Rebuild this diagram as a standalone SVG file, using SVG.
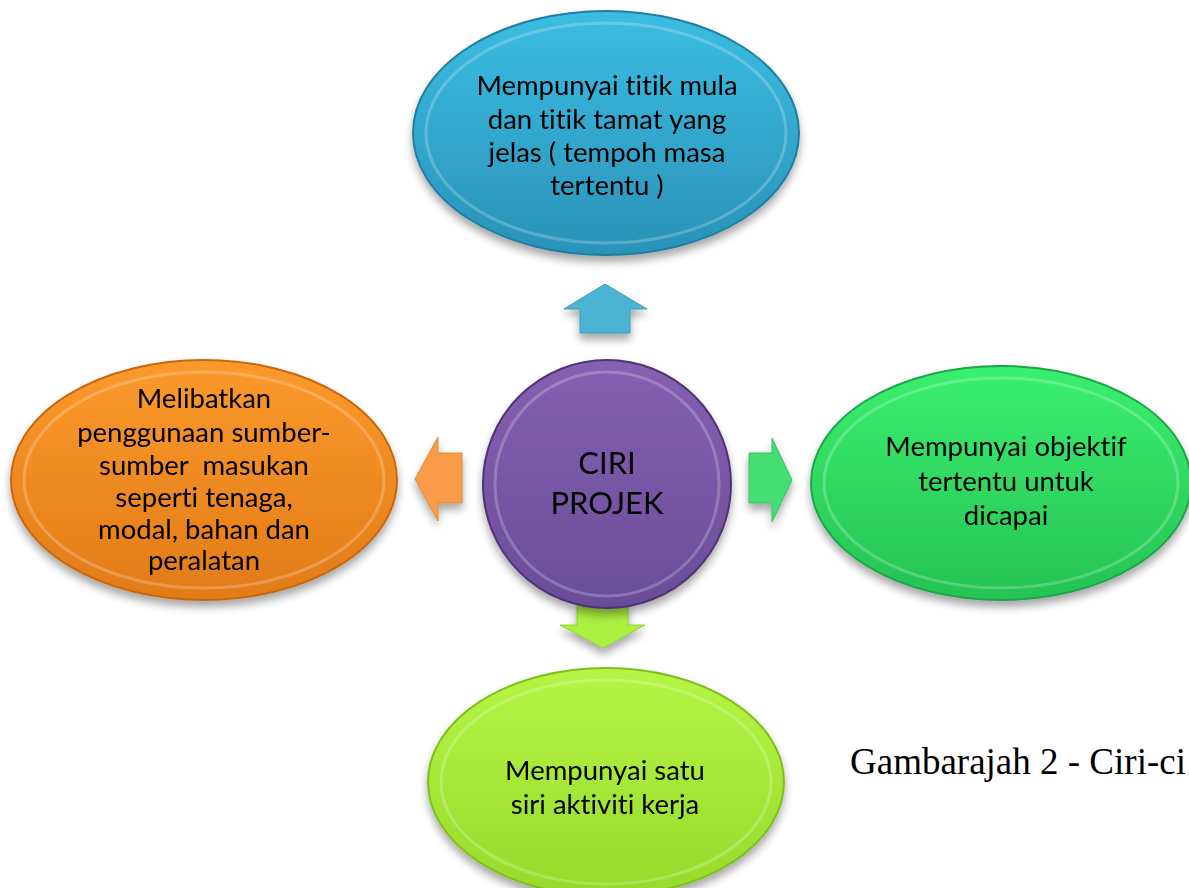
<svg xmlns="http://www.w3.org/2000/svg" width="1189" height="888" viewBox="0 0 1189 888">
<defs>
<style>
.t{font-family:Lato,"Liberation Sans",sans-serif;font-size:27.5px;fill:#000;text-anchor:middle;font-variant-ligatures:none}
.c{font-family:Lato,"Liberation Sans",sans-serif;font-size:31px;fill:#000;text-anchor:middle}
.cap{font-family:"Liberation Serif",serif;font-size:37px;fill:#000}
.rim{fill:none;stroke:#ffffff;stroke-opacity:0.22;stroke-width:3}
</style>
<filter id="sh" x="-20%" y="-20%" width="140%" height="150%">
<feGaussianBlur in="SourceAlpha" stdDeviation="4"/>
<feOffset dx="0" dy="6" result="b"/>
<feComponentTransfer><feFuncA type="linear" slope="0.35"/></feComponentTransfer>
<feMerge><feMergeNode/><feMergeNode in="SourceGraphic"/></feMerge>
</filter>
<linearGradient id="gb" x1="0" y1="0" x2="0" y2="1"><stop offset="0" stop-color="#3cbde3"/><stop offset="1" stop-color="#2a92b8"/></linearGradient>
<linearGradient id="gp" x1="0" y1="0" x2="0" y2="1"><stop offset="0" stop-color="#8660b3"/><stop offset="1" stop-color="#6a4d98"/></linearGradient>
<linearGradient id="gg" x1="0" y1="0" x2="0" y2="1"><stop offset="0" stop-color="#3af06f"/><stop offset="1" stop-color="#26c254"/></linearGradient>
<linearGradient id="go" x1="0" y1="0" x2="0" y2="1"><stop offset="0" stop-color="#fb9a2c"/><stop offset="1" stop-color="#e27b18"/></linearGradient>
<linearGradient id="gy" x1="0" y1="0" x2="0" y2="1"><stop offset="0" stop-color="#b6f545"/><stop offset="1" stop-color="#96da2c"/></linearGradient>
</defs>
<rect width="1189" height="888" fill="#ffffff"/>

<g id="connectors">
<polygon points="605,284 647,309 630,309 630,333 580,333 580,309 564,309" fill="#4db3d2" stroke="#3a9cbc" stroke-width="1" filter="url(#sh)"/>
<polygon points="415,479 438,437 438,453 462,453 462,503 438,503 438,521" fill="#f89c48" stroke="#e08a3a" stroke-width="1" filter="url(#sh)"/>
<polygon points="792,480 772,438 772,453 749,453 749,503 772,503 772,522" fill="#45de74" stroke="#35c060" stroke-width="1" filter="url(#sh)"/>
<polygon points="577,604 628,604 628,625 645,625 603,648 560,625 577,625" fill="#aaf040" stroke="#92d030" stroke-width="1" filter="url(#sh)"/>
</g>

<g id="node-top" filter="url(#sh)">
<ellipse cx="606" cy="133" rx="193" ry="122" fill="url(#gb)" stroke="#1f7fa0" stroke-width="2"/>
<ellipse class="rim" cx="606" cy="133" rx="180" ry="110"/>
<text class="t" x="607" y="95">Mempunyai titik mula</text>
<text class="t" x="607" y="129">dan titik tamat yang</text>
<text class="t" x="607" y="162">jelas ( tempoh masa</text>
<text class="t" x="607" y="195">tertentu )</text>
</g>

<g id="node-left" filter="url(#sh)">
<ellipse cx="204" cy="480" rx="193" ry="120" fill="url(#go)" stroke="#c8670f" stroke-width="2"/>
<ellipse class="rim" cx="204" cy="480" rx="180" ry="108"/>
<text class="t" x="204" y="408">Melibatkan</text>
<text class="t" x="204" y="442">penggunaan sumber-</text>
<text class="t" x="204" y="475" xml:space="preserve">sumber  masukan</text>
<text class="t" x="204" y="507">seperti tenaga,</text>
<text class="t" x="204" y="539">modal, bahan dan</text>
<text class="t" x="204" y="570">peralatan</text>
</g>

<g id="node-right" filter="url(#sh)">
<ellipse cx="1001" cy="483" rx="190" ry="117" fill="url(#gg)" stroke="#1ea548" stroke-width="2"/>
<ellipse class="rim" cx="1001" cy="483" rx="177" ry="105"/>
<text class="t" x="1006" y="456">Mempunyai objektif</text>
<text class="t" x="1006" y="491">tertentu untuk</text>
<text class="t" x="1006" y="525">dicapai</text>
</g>

<g id="node-bottom" filter="url(#sh)">
<ellipse cx="606" cy="782" rx="178" ry="114" fill="url(#gy)" stroke="#7fbf1e" stroke-width="2"/>
<ellipse class="rim" cx="606" cy="782" rx="165" ry="102"/>
<text class="t" x="605" y="780">Mempunyai satu</text>
<text class="t" x="605" y="814">siri aktiviti kerja</text>
</g>

<g id="node-center" filter="url(#sh)">
<circle cx="607" cy="484" r="124" fill="url(#gp)" stroke="#4e3575" stroke-width="2"/>
<circle class="rim" cx="607" cy="484" r="112"/>
<text class="c" x="607" y="474">CIRI</text>
<text class="c" x="607" y="514">PROJEK</text>
</g>

<text class="cap" x="850" y="774">Gambarajah 2 - Ciri-ci</text>
</svg>
